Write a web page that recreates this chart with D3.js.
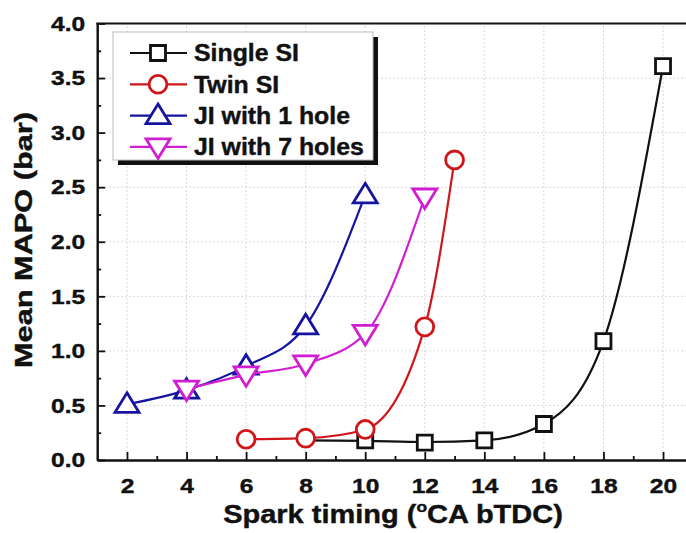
<!DOCTYPE html>
<html>
<head>
<meta charset="utf-8">
<script src="https://cdn.jsdelivr.net/npm/d3@7"></script>
<style>
  body { margin: 0; background: #fff; }
  svg { font-family: "Liberation Sans", Arial, sans-serif; font-weight: bold; }
  svg text { stroke: #111; stroke-width: 0.4px; }
</style>
</head>
<body>
<div id="chart"></div>
<script>
// spark timing (deg CA bTDC) and mean MAPO (bar) for each ignition setup
const singleTiming = [10, 12, 14, 16, 18, 20];
const singleMapo = [0.18, 0.16, 0.18, 0.33, 1.09, 3.61];
// fitted curve for single SI starts under the twin SI markers
const singleFitTiming = [8, 10, 12, 14, 16, 18, 20];
const singleFitMapo = [0.18, 0.175, 0.165, 0.18, 0.33, 1.09, 3.61];

const twinTiming = [6, 8, 10, 12, 13];
const twinMapo = [0.19, 0.2, 0.28, 1.22, 2.75];

const ji1Timing = [2, 4, 6, 8, 10];
const ji1Mapo = [0.51, 0.64, 0.86, 1.23, 2.43];

const ji7Timing = [4, 6, 8, 10, 12];
const ji7Mapo = [0.65, 0.78, 0.88, 1.16, 2.41];

const xTicks = [2, 4, 6, 8, 10, 12, 14, 16, 18, 20];
const yTicks = [0, 0.5, 1, 1.5, 2, 2.5, 3, 3.5, 4];

const width = 686;
const height = 533;

const x = d3.scaleLinear().domain([1, 21]).range([97.2, 692.8]);
const y = d3.scaleLinear().domain([0, 4]).range([460, 23.5]);

const svg = d3
  .select("#chart")
  .append("svg")
  .attr("width", width)
  .attr("height", height);

// stretch text horizontally by k, keeping its anchor
function widen(sel, k) {
  sel.each(function () {
    const w = this.getComputedTextLength();
    d3.select(this).attr("textLength", w * k).attr("lengthAdjust", "spacingAndGlyphs");
  });
}

// dotted grid
svg
  .append("g")
  .selectAll("line")
  .data(xTicks)
  .enter()
  .append("line")
  .attr("x1", (d) => x(d))
  .attr("x2", (d) => x(d))
  .attr("y1", y(0))
  .attr("y2", y(4))
  .attr("stroke", "#d8d8d8")
  .attr("stroke-width", 1)
  .attr("stroke-dasharray", "2,2");

svg
  .append("g")
  .selectAll("line")
  .data(yTicks.slice(1))
  .enter()
  .append("line")
  .attr("x1", x(1))
  .attr("x2", x(21))
  .attr("y1", (d) => y(d))
  .attr("y2", (d) => y(d))
  .attr("stroke", "#d8d8d8")
  .attr("stroke-width", 1)
  .attr("stroke-dasharray", "2,2");

// axes with inward ticks
const xAxis = svg
  .append("g")
  .attr("transform", "translate(0," + y(0) + ")")
  .call(d3.axisBottom(x).tickValues(xTicks).tickSizeInner(-8).tickSizeOuter(0).tickPadding(18));
const xMinor = svg
  .append("g")
  .attr("transform", "translate(0," + y(0) + ")")
  .call(d3.axisBottom(x).tickValues(d3.range(3, 21, 2)).tickSizeInner(-4).tickSizeOuter(0).tickFormat(""));

const yAxis = svg
  .append("g")
  .attr("transform", "translate(" + x(1) + ",0)")
  .call(d3.axisLeft(y).tickValues(yTicks).tickFormat(d3.format(".1f")).tickSizeInner(-8).tickSizeOuter(0).tickPadding(12));
const yMinor = svg
  .append("g")
  .attr("transform", "translate(" + x(1) + ",0)")
  .call(d3.axisLeft(y).tickValues(d3.range(0.25, 4, 0.5)).tickSizeInner(-4).tickSizeOuter(0).tickFormat(""));

[xAxis, xMinor, yAxis, yMinor].forEach((g) => {
  g.select(".domain").attr("stroke", "#111").attr("stroke-width", 2);
  g.selectAll(".tick line").attr("stroke", "#111").attr("stroke-width", 1.8);
});
[xAxis, yAxis].forEach((g) => {
  g.selectAll("text")
    .attr("font-size", 21)
    .attr("font-weight", "bold")
    .attr("fill", "#111")
    .attr("font-family", "Liberation Sans, Arial, sans-serif");
  widen(g.selectAll("text"), 1.17);
});

// top frame
svg
  .append("line")
  .attr("x1", x(1) - 1)
  .attr("x2", x(21))
  .attr("y1", y(4))
  .attr("y2", y(4))
  .attr("stroke", "#111")
  .attr("stroke-width", 2);

// axis titles
svg
  .append("text")
  .attr("transform", "translate(32,240) rotate(-90)")
  .attr("text-anchor", "middle")
  .attr("font-size", 23)
  .attr("textLength", 256)
  .attr("lengthAdjust", "spacingAndGlyphs")
  .attr("fill", "#111")
  .text("Mean MAPO (bar)");

const xTitle = svg
  .append("g")
  .attr("transform", "translate(393,523) scale(1.16,1)")
  .append("text")
  .attr("text-anchor", "middle")
  .attr("font-size", 25)
  .attr("fill", "#111");
xTitle.append("tspan").text("Spark timing (");
xTitle.append("tspan").attr("font-size", 15).attr("dy", -11).text("o");
xTitle.append("tspan").attr("dy", 11).text("CA bTDC)");

// series definitions
const series = [
  { name: "Single SI", color: "#111111", shape: "square", tx: singleTiming, ty: singleMapo, fx: singleFitTiming, fy: singleFitMapo },
  { name: "Twin SI", color: "#d0161b", shape: "circle", tx: twinTiming, ty: twinMapo, fx: twinTiming, fy: twinMapo },
  { name: "JI with 1 hole", color: "#1414a0", shape: "up", tx: ji1Timing, ty: ji1Mapo, fx: ji1Timing, fy: ji1Mapo },
  { name: "JI with 7 holes", color: "#d21ed2", shape: "down", tx: ji7Timing, ty: ji7Mapo, fx: ji7Timing, fy: ji7Mapo },
];

const line = d3
  .line()
  .x((d) => x(d[0]))
  .y((d) => y(d[1]))
  .curve(d3.curveMonotoneX);

function markerPath(shape) {
  if (shape === "square") return "M-7.5,-7.5H7.5V7.5H-7.5Z";
  if (shape === "circle") return d3.symbol(d3.symbolCircle, 250)();
  if (shape === "up") return "M0,-11.5L12,8H-12Z";
  return "M0,11.5L12,-8H-12Z";
}

series.forEach((s) => {
  svg
    .append("path")
    .datum(d3.zip(s.fx, s.fy))
    .attr("d", line)
    .attr("fill", "none")
    .attr("stroke", s.color)
    .attr("stroke-width", 2.2);

  svg
    .append("g")
    .selectAll("path")
    .data(d3.zip(s.tx, s.ty))
    .enter()
    .append("path")
    .attr("transform", (d) => "translate(" + x(d[0]) + "," + y(d[1]) + ")")
    .attr("d", markerPath(s.shape))
    .attr("fill", "#fff")
    .attr("stroke", s.color)
    .attr("stroke-width", 2.8);
});

// legend with drop shadow
const legend = svg.append("g");
legend
  .append("rect")
  .attr("x", 118)
  .attr("y", 37)
  .attr("width", 260)
  .attr("height", 128)
  .attr("fill", "#111");
legend
  .append("rect")
  .attr("x", 113)
  .attr("y", 32)
  .attr("width", 260)
  .attr("height", 128)
  .attr("fill", "#fff")
  .attr("stroke", "#bbb")
  .attr("stroke-width", 1);

const rows = legend
  .selectAll(".legend")
  .data(series)
  .enter()
  .append("g")
  .attr("class", "legend")
  .attr("transform", (d, i) => "translate(0," + (53 + i * 31.3) + ")");

rows
  .append("line")
  .attr("x1", 130)
  .attr("x2", 187)
  .attr("stroke", (d) => d.color)
  .attr("stroke-width", 2.2);

rows
  .append("path")
  .attr("transform", "translate(158,0)")
  .attr("d", (d) => markerPath(d.shape))
  .attr("fill", "#fff")
  .attr("stroke", (d) => d.color)
  .attr("stroke-width", 2.8);

const legendText = rows
  .append("text")
  .attr("x", 194)
  .attr("y", 0)
  .attr("dy", "0.36em")
  .attr("font-size", 23)
  .attr("fill", "#111")
  .text((d) => d.name);
widen(legendText, 1.08);
</script>
</body>
</html>
